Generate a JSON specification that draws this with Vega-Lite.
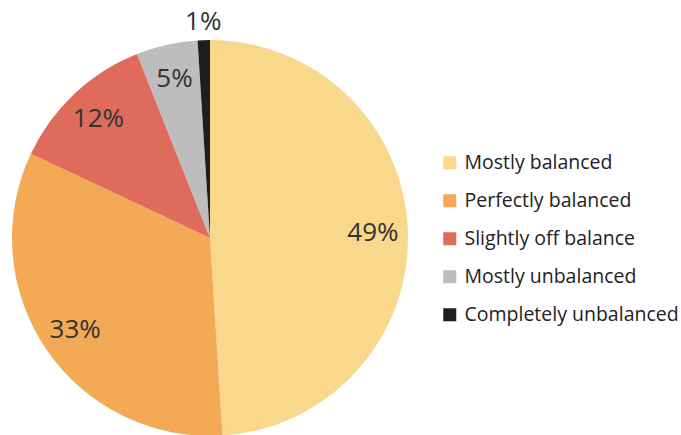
{
  "$schema": "https://vega.github.io/schema/vega-lite/v6.json",
  "width": 420,
  "height": 476,
  "padding": 0,
  "background": "white",
  "data": {
    "values": [
      {"idx": 1, "category": "Mostly balanced", "value": 49, "label": "49%"},
      {"idx": 2, "category": "Perfectly balanced", "value": 33, "label": "33%"},
      {"idx": 3, "category": "Slightly off balance", "value": 12, "label": "12%"},
      {"idx": 4, "category": "Mostly unbalanced", "value": 5, "label": "5%"},
      {"idx": 5, "category": "Completely unbalanced", "value": 1, "label": "1%"}
    ]
  },
  "encoding": {
    "theta": {"field": "value", "type": "quantitative", "stack": true},
    "order": {"field": "idx", "type": "quantitative"}
  },
  "layer": [
    {
      "mark": {"type": "arc", "outerRadius": 198, "stroke": null},
      "encoding": {
        "color": {
          "field": "category",
          "type": "nominal",
          "sort": ["Mostly balanced", "Perfectly balanced", "Slightly off balance", "Mostly unbalanced", "Completely unbalanced"],
          "scale": {
            "domain": ["Mostly balanced", "Perfectly balanced", "Slightly off balance", "Mostly unbalanced", "Completely unbalanced"],
            "range": ["#F9D88C", "#F4A955", "#DF6B5D", "#BDBDBD", "#1E1E1E"]
          },
          "legend": {
            "title": null,
            "orient": "none",
            "legendX": 440,
            "legendY": 153,
            "symbolType": "square",
            "symbolSize": 169,
            "symbolStrokeWidth": 0,
            "symbolOpacity": 1,
            "labelFont": "Open Sans",
            "labelFontSize": 19.5,
            "labelColor": "#222222",
            "labelOffset": 5,
            "rowPadding": 17,
            "labelLimit": 300
          }
        }
      }
    },
    {
      "mark": {"type": "text", "font": "Open Sans", "fontSize": 26, "color": "#333333", "radius": 163},
      "encoding": {
        "detail": {"field": "category", "type": "nominal"},
        "text": {"condition": {"test": "datum.value >= 2", "field": "label"}, "value": ""}
      }
    },
    {
      "mark": {"type": "text", "font": "Open Sans", "fontSize": 26, "color": "#333333", "radius": 216},
      "encoding": {
        "detail": {"field": "category", "type": "nominal"},
        "text": {"condition": {"test": "datum.value < 2", "field": "label"}, "value": ""}
      }
    }
  ]
}
